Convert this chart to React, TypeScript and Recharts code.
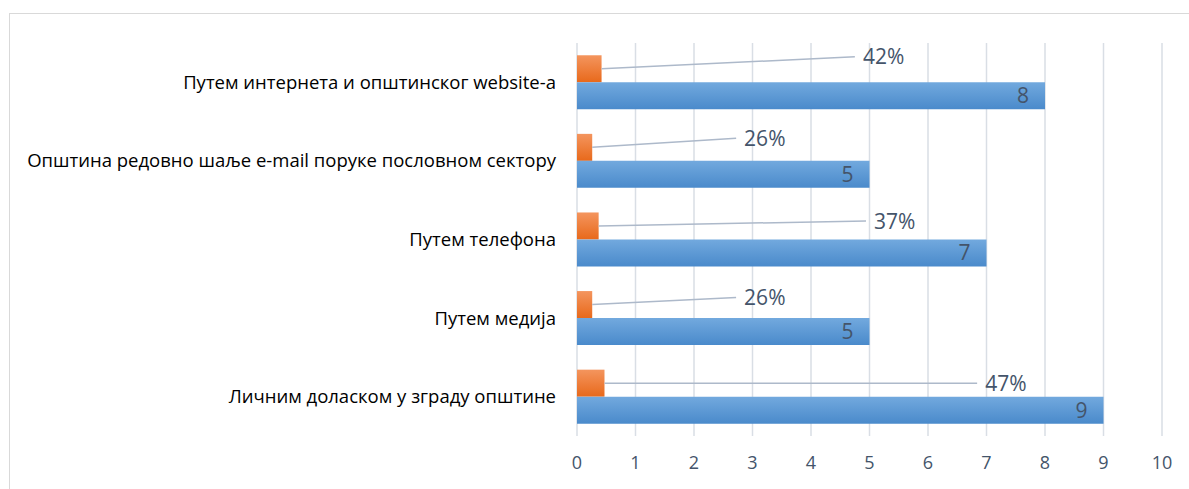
import { BarChart, Bar, XAxis, YAxis, CartesianGrid, LabelList } from "recharts"

const categories = [
  "Путем интернета и општинског website-a",
  "Општина редовно шаље e-mail поруке пословном сектору",
  "Путем телефона",
  "Путем медија",
  "Личним доласком у зграду општине",
]
const counts = [8, 5, 7, 5, 9]
const shares = [0.42, 0.26, 0.37, 0.26, 0.47]
const xTicks = [0, 1, 2, 3, 4, 5, 6, 7, 8, 9, 10]

// where the percentage callouts sit: end of leader line in axis units, and rise above the bar in px
const calloutAt = [4.75, 2.72, 4.94, 2.72, 6.84]
const calloutRise = [12, 9, 5, 7, 0]

const data = categories.map((name, i) => ({ name, count: counts[i], share: shares[i] }))

const FONT = "'Open Sans', 'Noto Sans', sans-serif"
const TEXT_GRAY = "#44546A"

const ShareCallout = (props: any) => {
  const { x, y, width, height, value, index } = props
  const v = Number(value)
  if (!v) return null
  const unit = Number(width) / v
  const x0 = Number(x) + Number(width)
  const y0 = Number(y) + Number(height) / 2
  const x1 = Number(x) + unit * calloutAt[index]
  const y1 = y0 - calloutRise[index]
  return (
    <g>
      <line x1={x0} y1={y0} x2={x1} y2={y1} stroke="#ADB9CA" strokeWidth={1.5} />
      <text x={x1 + 8} y={y1 + 2} dominantBaseline="middle" fill={TEXT_GRAY} fontSize={21} fontFamily={FONT}>
        {Math.round(v * 100)}%
      </text>
    </g>
  )
}

export default function App() {
  return (
    <div style={{ position: "fixed", left: 0, top: 0, width: 1189, height: 489, background: "#fff", overflow: "hidden" }}>
      <div
        style={{
          position: "absolute",
          left: 9,
          top: 13,
          width: 1400,
          height: 700,
          border: "1.5px solid #D9D9D9",
        }}
      />
      <div style={{ position: "absolute", left: 0, top: 0 }}>
        <BarChart
          width={1189}
          height={489}
          data={data}
          layout="vertical"
          margin={{ top: 43, right: 27, bottom: 23, left: 0 }}
          barCategoryGap="15.6%"
          barGap={0}
          style={{ fontFamily: FONT }}
        >
          <defs>
            <linearGradient id="blueFill" x1="0" y1="0" x2="0" y2="1">
              <stop offset="0%" stopColor="#72A9DE" />
              <stop offset="100%" stopColor="#4A8ACB" />
            </linearGradient>
            <linearGradient id="orangeFill" x1="0" y1="0" x2="0" y2="1">
              <stop offset="0%" stopColor="#F4955E" />
              <stop offset="100%" stopColor="#E8691B" />
            </linearGradient>
          </defs>
          <CartesianGrid horizontal={false} stroke="#D9DEE5" strokeWidth={1.5} />
          <XAxis
            type="number"
            domain={[0, 10]}
            ticks={xTicks}
            tickLine={false}
            axisLine={false}
            tickMargin={14}
            height={30}
            tick={{ fill: TEXT_GRAY, fontSize: 18 }}
          />
          <YAxis
            type="category"
            dataKey="name"
            width={577}
            tickLine={false}
            axisLine={false}
            tickMargin={15}
            tick={{ fill: "#000", fontSize: 18.5 }}
          />
          <Bar dataKey="share" fill="url(#orangeFill)" isAnimationActive={false}>
            <LabelList dataKey="share" content={ShareCallout} />
          </Bar>
          <Bar dataKey="count" fill="url(#blueFill)" isAnimationActive={false}>
            <LabelList dataKey="count" position="insideRight" offset={16} fill={TEXT_GRAY} fontSize={21} />
          </Bar>
        </BarChart>
      </div>
    </div>
  )
}
